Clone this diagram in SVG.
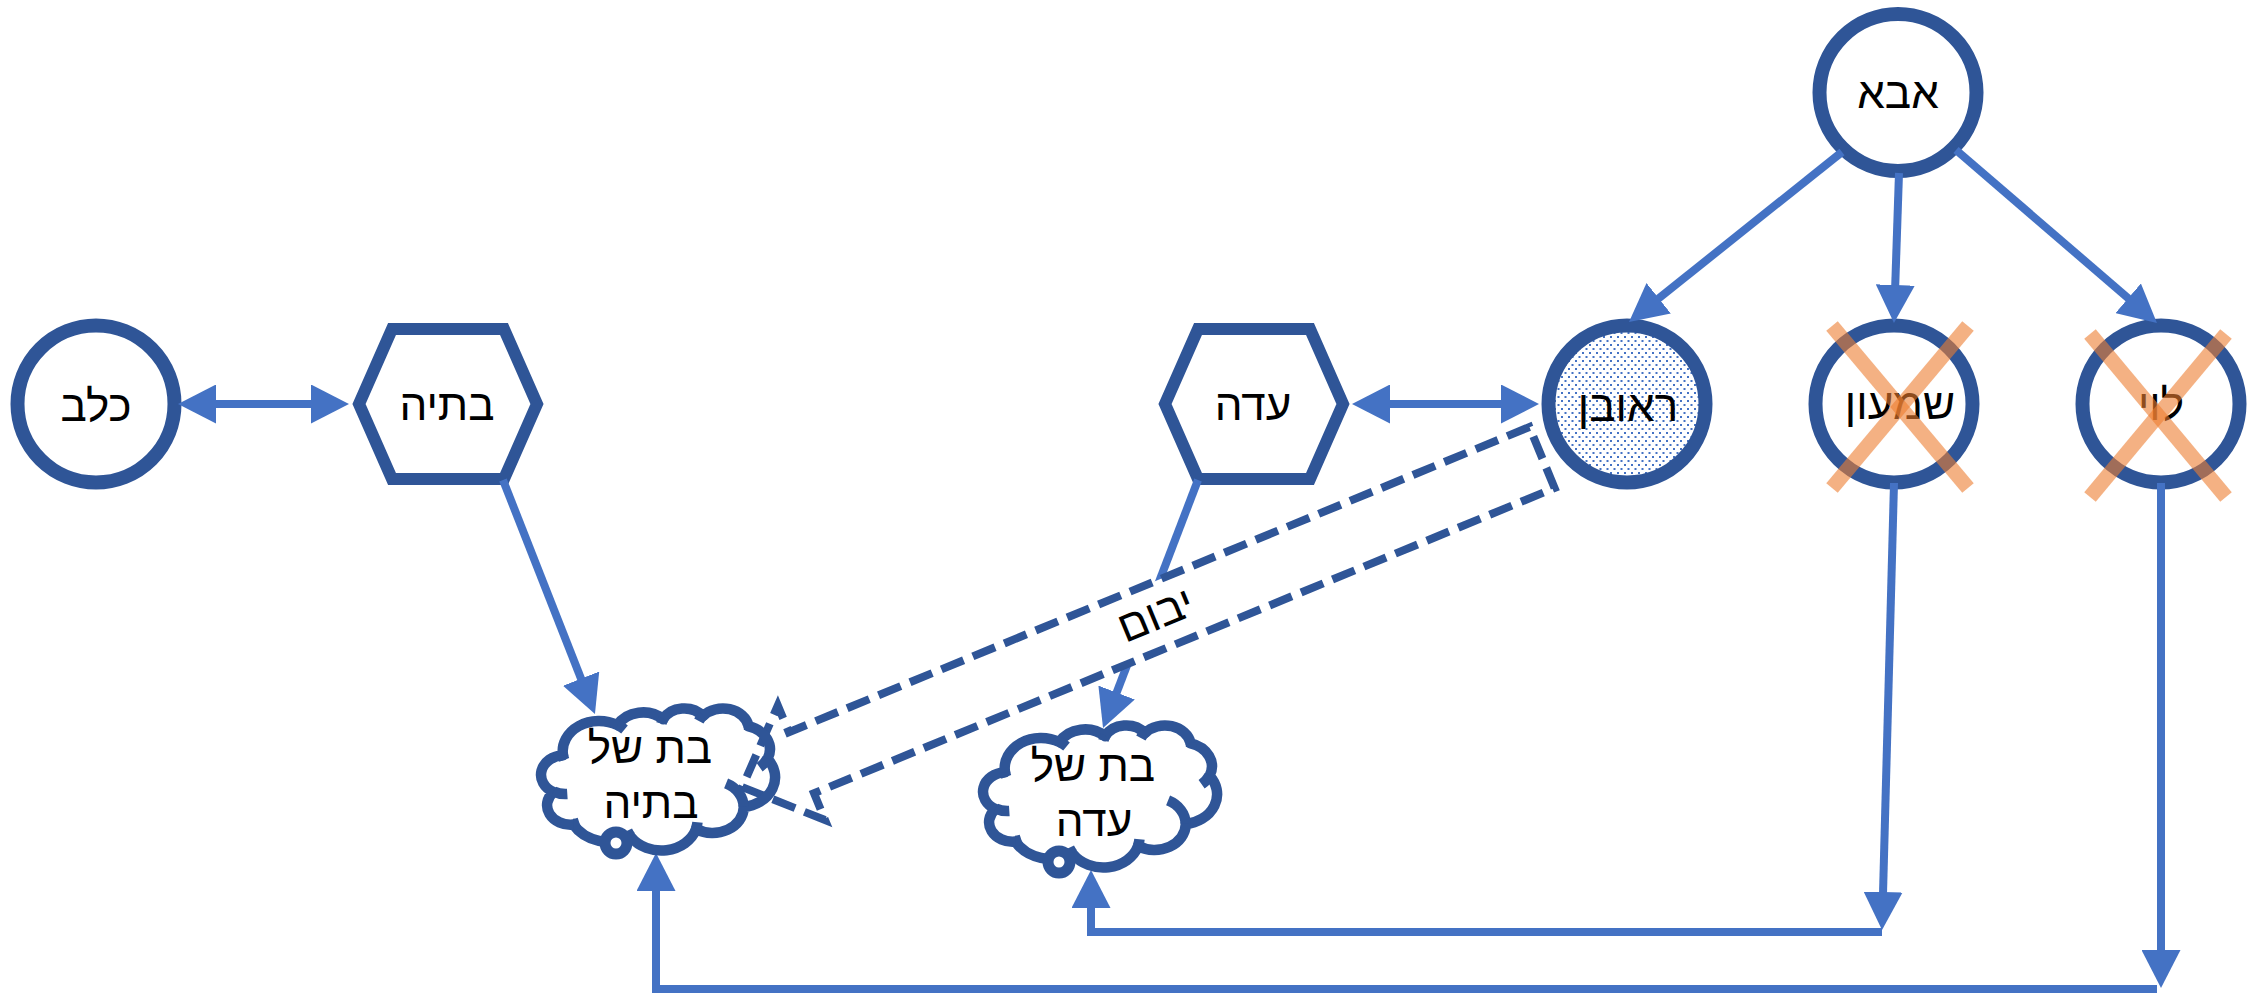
<svg xmlns="http://www.w3.org/2000/svg" width="2267" height="995" viewBox="0 0 2267 995">
<style>
.node{fill:#fff;stroke:#2F5597;stroke-width:14}
.hex{fill:#fff;stroke:#2F5597;stroke-width:12;stroke-linejoin:miter}
.conn{fill:none;stroke:#4472C4;stroke-width:8;stroke-linejoin:miter}
.cl{fill:none;stroke:#2F5597;stroke-width:10.5;stroke-linejoin:round;vector-effect:non-scaling-stroke}
.bub{fill:#fff;stroke:#2F5597;stroke-width:11}
.x{stroke:#ED7D31;stroke-opacity:0.6;stroke-width:15;stroke-linecap:butt}
text{font-family:"Liberation Sans","DejaVu Sans",sans-serif;font-size:44px;fill:#000;text-anchor:middle}
</style>
<defs>
<marker id="ah" viewBox="0 0 38 39" refX="28" refY="19.5" markerWidth="38" markerHeight="39" markerUnits="userSpaceOnUse" orient="auto-start-reverse">
<path d="M0,0 L38,19.5 L0,39 Z" fill="#4472C4"/>
</marker>
<pattern id="dots" width="7" height="8" patternUnits="userSpaceOnUse">
<rect width="7" height="8" fill="#fff"/>
<rect x="0" y="0" width="2" height="2" fill="#4472C4"/>
<rect x="3.5" y="4" width="2" height="2" fill="#4472C4"/>
</pattern>
</defs>

<g id="kelev">
<circle class="node" cx="96" cy="404" r="78.5"/>
<text x="96" y="421">כלב</text>
</g>
<g id="batya">
<polygon class="hex" points="359,404 392,329 504,329 537,404 504,479 392,479"/>
<text x="447" y="420">בתיה</text>
</g>
<g id="ada">
<polygon class="hex" points="1165,404 1198,329 1310,329 1343,404 1310,479 1198,479"/>
<text x="1253" y="420">עדה</text>
</g>
<g id="reuven">
<circle class="node" cx="1627" cy="404" r="78.5" style="fill:url(#dots)"/>
<text x="1628" y="421">ראובן</text>
</g>
<g id="abba">
<circle class="node" cx="1898" cy="92.5" r="78.5"/>
<text x="1898" y="108">אבא</text>
</g>
<g id="shimon">
<circle class="node" cx="1894" cy="404" r="78.5"/>
<text x="1900" y="419">שמעון</text>
<line class="x" x1="1832" y1="326" x2="1968" y2="488"/>
<line class="x" x1="1968" y1="326" x2="1832" y2="488"/>
</g>
<g id="levi">
<circle class="node" cx="2161" cy="404" r="78.5"/>
<text x="2161" y="420">לוי</text>
<line class="x" x1="2090" y1="334" x2="2226" y2="497"/>
<line class="x" x1="2226" y1="334" x2="2090" y2="497"/>
</g>

<g id="connectors">
<line class="conn" x1="188" y1="404" x2="339" y2="404" marker-start="url(#ah)" marker-end="url(#ah)"/>
<line class="conn" x1="1362" y1="404" x2="1529" y2="404" marker-start="url(#ah)" marker-end="url(#ah)"/>
<line class="conn" x1="1842" y1="152" x2="1636.8" y2="315.8" marker-end="url(#ah)"/>
<line class="conn" x1="1899" y1="173" x2="1894.3" y2="313" marker-end="url(#ah)"/>
<line class="conn" x1="1956" y1="150" x2="2149.4" y2="316.5" marker-end="url(#ah)"/>
<line class="conn" x1="503" y1="480" x2="591.3" y2="704.7" marker-end="url(#ah)"/>
<line class="conn" x1="1198" y1="480" x2="1106.6" y2="718.7" marker-end="url(#ah)"/>
<line class="conn" x1="1894" y1="483" x2="1882.3" y2="920" marker-end="url(#ah)"/>
<polyline class="conn" points="1882,932 1091,932 1091,880" marker-end="url(#ah)"/>
<line class="conn" x1="2161" y1="483" x2="2161" y2="978" marker-end="url(#ah)"/>
<polyline class="conn" points="2157,989 656,989 656,863" marker-end="url(#ah)"/>
</g>

<g id="yibum" transform="translate(1542 457.5) rotate(-22.4)">
<path d="M0,-33 L-801,-33 L-801,-62 L-865,0 L-801,62 L-801,33 L0,33 Z" fill="#fff" stroke="#2F5597" stroke-width="8" stroke-dasharray="24 10"/>
<text x="-417" y="13">יבום</text>
</g>

<g id="bat-shel-batya">
<g transform="translate(542 708) scale(0.0053935 0.003287)">
<path class="cl" d="M3900 14370 A6753 9190 0 0 1 14005 5202 A5333 7267 0 0 1 22456 3432 A4365 5945 0 0 1 29834 2481 A4857 6595 0 0 1 38320 5576 A5333 7273 0 0 1 41820 15460 A6775 9220 0 0 1 37406 30202 A5785 7867 0 0 1 28558 36812 A6752 9215 0 0 1 16483 39264 A7720 10543 0 0 1 5806 35468 A4360 5918 0 0 1 2115 25547 A4345 5945 0 0 1 3900 14370 Z"/>
<path class="cl" d="M4693 26177 A4345 5945 0 0 1 2160 25380 M6928 34899 A4360 5918 0 0 1 5820 35280 M16478 39090 A6752 9215 0 0 1 15810 37349 M28827 34751 A6752 9215 0 0 1 28560 36660 M34129 22954 A5785 7867 0 0 1 37380 30090 M41798 15354 A5333 7273 0 0 1 40349 18031 M38324 5426 A4857 6595 0 0 1 38400 6689 M29078 3952 A4857 6595 0 0 1 29820 2340 M22141 4720 A4365 5945 0 0 1 22500 3330 M14000 5192 A6753 9190 0 0 1 15300 6541 M4127 15789 A6753 9190 0 0 1 3900 14370"/>
</g>
<circle class="bub" cx="616" cy="843" r="11"/>
<text x="650" y="763">בת של</text>
<text x="651" y="818">בתיה</text>
</g>

<g id="bat-shel-ada">
<g transform="translate(984 725) scale(0.0053935 0.003287)">
<path class="cl" d="M3900 14370 A6753 9190 0 0 1 14005 5202 A5333 7267 0 0 1 22456 3432 A4365 5945 0 0 1 29834 2481 A4857 6595 0 0 1 38320 5576 A5333 7273 0 0 1 41820 15460 A6775 9220 0 0 1 37406 30202 A5785 7867 0 0 1 28558 36812 A6752 9215 0 0 1 16483 39264 A7720 10543 0 0 1 5806 35468 A4360 5918 0 0 1 2115 25547 A4345 5945 0 0 1 3900 14370 Z"/>
<path class="cl" d="M4693 26177 A4345 5945 0 0 1 2160 25380 M6928 34899 A4360 5918 0 0 1 5820 35280 M16478 39090 A6752 9215 0 0 1 15810 37349 M28827 34751 A6752 9215 0 0 1 28560 36660 M34129 22954 A5785 7867 0 0 1 37380 30090 M41798 15354 A5333 7273 0 0 1 40349 18031 M38324 5426 A4857 6595 0 0 1 38400 6689 M29078 3952 A4857 6595 0 0 1 29820 2340 M22141 4720 A4365 5945 0 0 1 22500 3330 M14000 5192 A6753 9190 0 0 1 15300 6541 M4127 15789 A6753 9190 0 0 1 3900 14370"/>
</g>
<circle class="bub" cx="1059" cy="862" r="11"/>
<text x="1093" y="781">בת של</text>
<text x="1094" y="836">עדה</text>
</g>
</svg>
